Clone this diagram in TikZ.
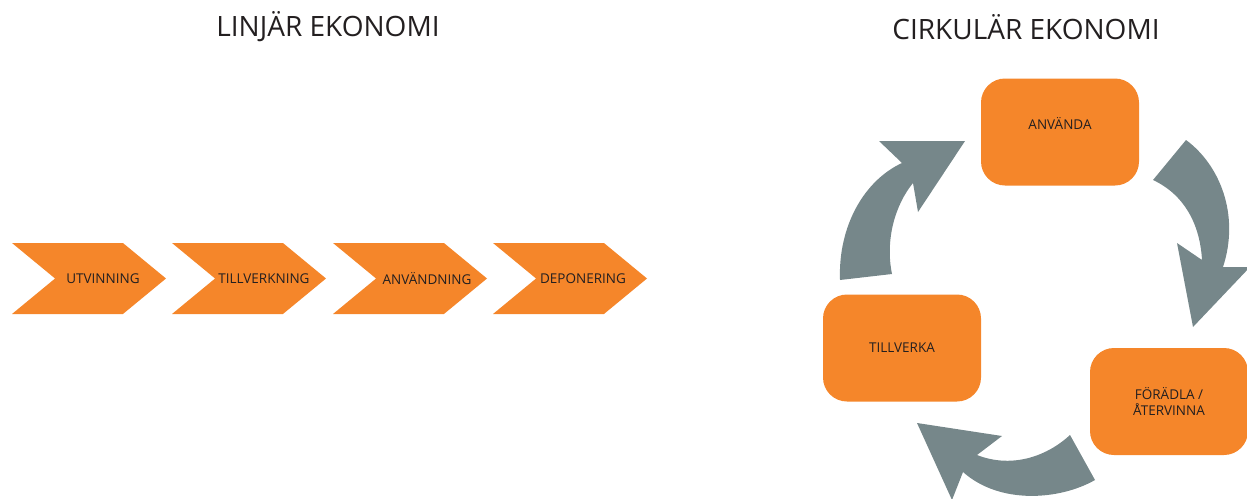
\documentclass[tikz,border=0pt]{standalone}
\usepackage{fontspec}
\setmainfont{Open Sans}
\usetikzlibrary{positioning,shapes.symbols}
\definecolor{orng}{HTML}{F5862A}
\definecolor{arrgray}{HTML}{76878A}
\definecolor{txt}{HTML}{231F20}

\begin{document}
\begin{tikzpicture}[
  x=1pt, y=-1pt,
  font=\fontsize{13.5}{16.5}\selectfont, text=txt,
  title/.style = {font=\fontsize{28}{32}\selectfont, inner sep=0pt},
  chev/.style  = {signal, signal from=west, signal to=east, fill=orng,
                  signal pointer angle=79, inner sep=0pt,
                  minimum width=154pt, minimum height=71pt},
  lbl/.style   = {inner sep=0pt},
  box/.style   = {fill=orng, rounded corners=24pt, align=center,
                  minimum width=158pt, minimum height=107pt},
  cyc/.style   = {fill=arrgray}
]
\useasboundingbox (0,0) rectangle (1247,498);
\clip (0,0) rectangle (1247,498);

% Titles
\node[title] (lin) at (328,27)  {LINJÄR EKONOMI};
\node[title] (cir) at (1026,27) {CIRKULÄR EKONOMI};

% Linear chain
\node[chev] (utv) at (89,278.5)  {};
\node[chev] (til) at (249,278.5) {};
\node[chev] (anv) at (410,278.5) {};
\node[chev] (dep) at (570,278.5) {};
\node[lbl] (utvt) at ([xshift=14pt]utv.center) {UTVINNING};
\node[lbl] (tilt) at ([xshift=15pt]til.center) {TILLVERKNING};
\node[lbl] (anvt) at ([xshift=17pt]anv.center) {ANVÄNDNING};
\node[lbl] (dept) at ([xshift=13pt]dep.center) {DEPONERING};

% Circular arrows
\fill[cyc] (840,280) -- (892,274) .. controls (885,240) and (895,205) .. (913,183)
  -- (918,212) -- (965,141) -- (879,141) -- (902,163)
  .. controls (865,180) and (838,225) .. (840,280) -- cycle;
\fill[cyc] (1186,140) .. controls (1220,165) and (1240,215) .. (1223,267)
  -- (1250,267) -- (1193,327) -- (1177,243) -- (1202,260)
  .. controls (1200,225) and (1185,195) .. (1153,180) -- cycle;
\fill[cyc] (1070,435) -- (1095,480) .. controls (1060,500) and (1000,505) .. (963,472)
  -- (952,500) -- (917,423) -- (1002,436) -- (977,455)
  .. controls (1010,468) and (1045,458) .. (1070,435) -- cycle;

% Circular boxes
\node[box] (anvc) at (1060,132)   {ANVÄNDA\\};
\node[box] (tilc) at (902,348)    {TILLVERKA};
\node[box] (forc) at (1169,401.5) {FÖRÄDLA /\\ÅTERVINNA};
\end{tikzpicture}
\end{document}
